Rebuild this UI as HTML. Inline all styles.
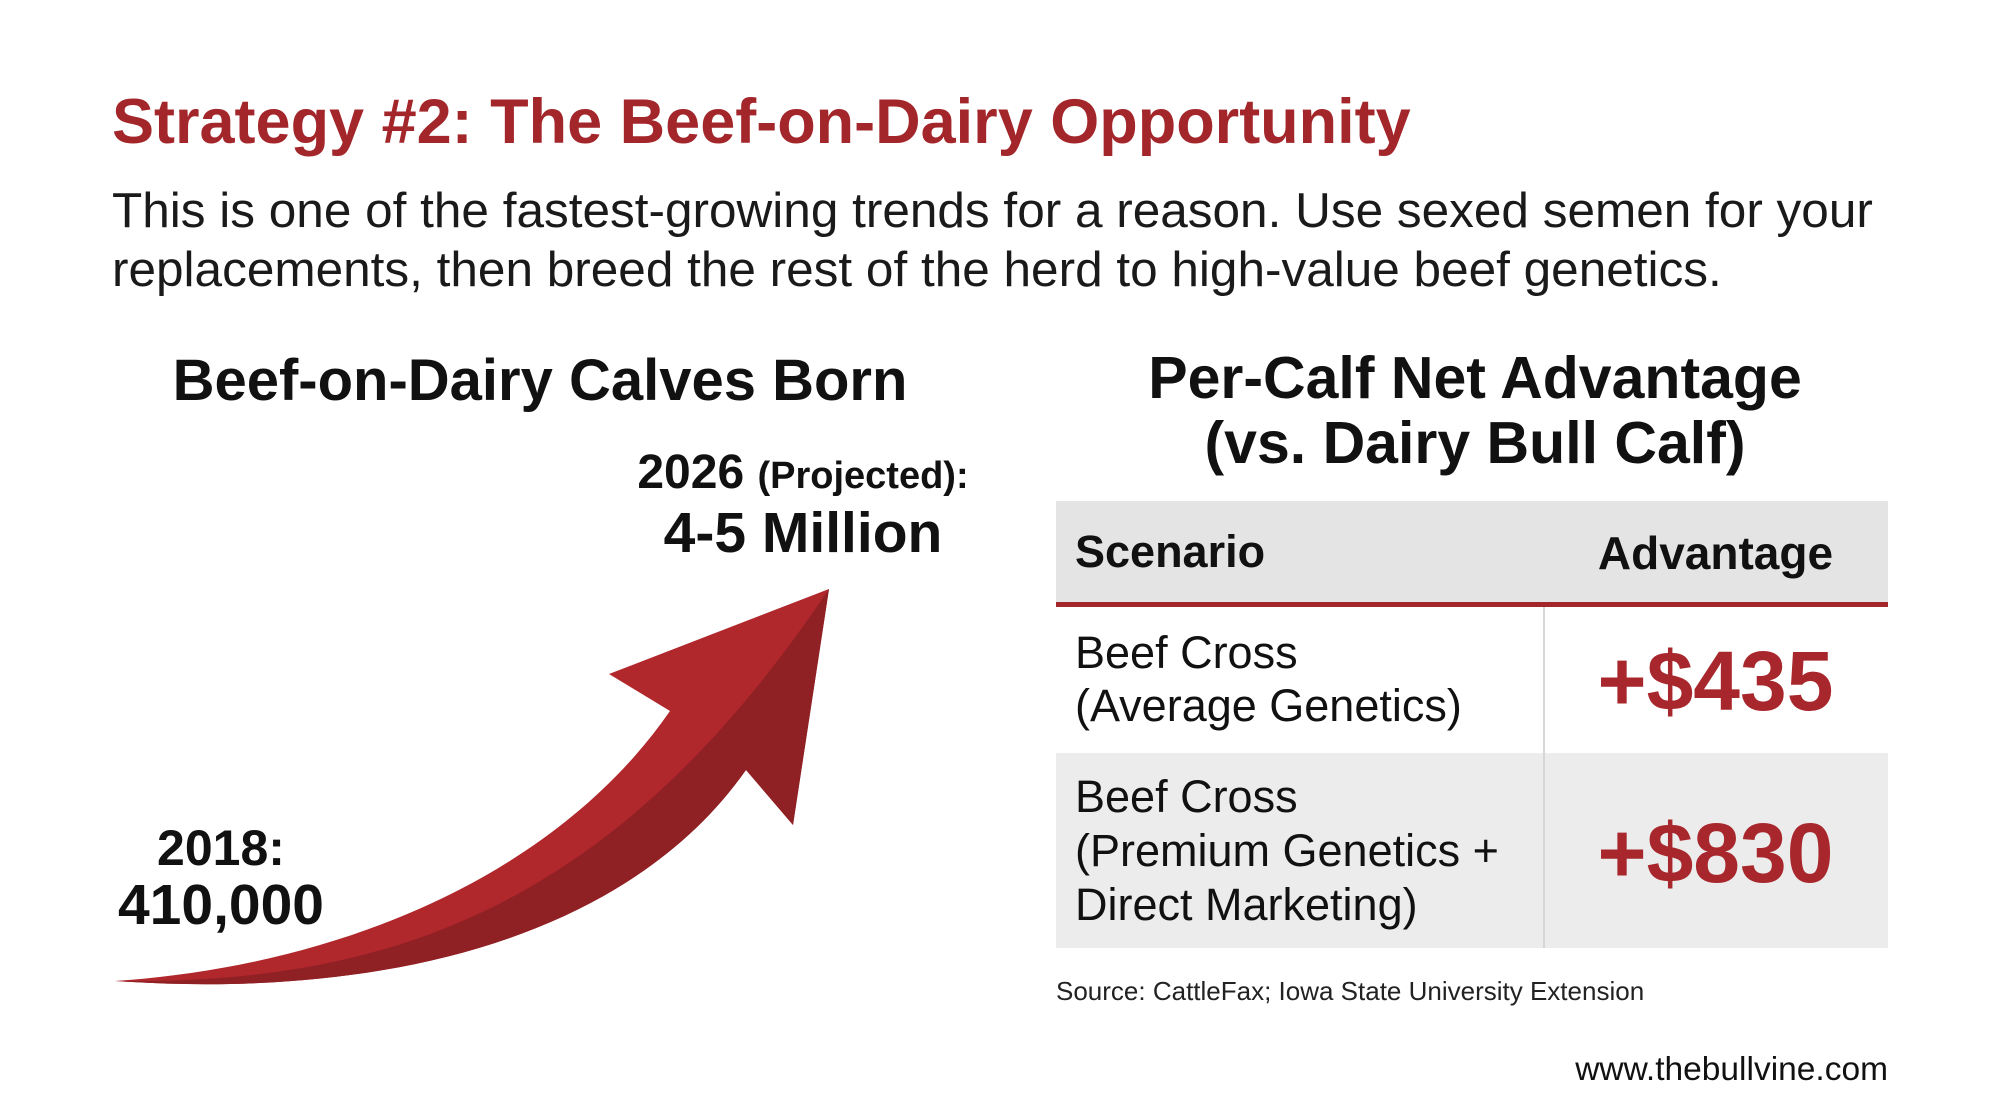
<!DOCTYPE html>
<html><head><meta charset="utf-8"><style>
body{margin:0;width:2000px;height:1116px;background:#fff;position:relative;overflow:hidden;font-family:"Liberation Sans",sans-serif;color:#111}
.a{position:absolute;white-space:nowrap}
</style></head><body>
<div class="a" style="left:112px;top:86px;font-size:63px;font-weight:bold;color:#a3262b">Strategy #2: The Beef-on-Dairy Opportunity</div>
<div class="a" style="left:112px;top:181px;font-size:49.5px;line-height:59px;color:#1a1a1a">This is one of the fastest-growing trends for a reason. Use sexed semen for your<br>replacements, then breed the rest of the herd to high-value beef genetics.</div>
<div class="a" style="left:140px;width:800px;top:347px;text-align:center;font-size:58px;font-weight:bold">Beef-on-Dairy Calves Born</div>
<svg class="a" style="left:0;top:0" width="1000" height="1116">
<path d="M115,981 C350,965 560,870 670,711 L609,674 L829,589 L793,825 L746,770 C630,935 390,1000 115,981 Z" fill="#b0272c"/>
<path d="M829,589 L793,825 L746,770 C630,935 390,1000 115,981 C400,985 620,900 829,589 Z" fill="#8f2024"/>
</svg>
<div class="a" style="left:550px;width:506px;top:445px;text-align:center;font-size:48px;font-weight:bold">2026 <span style="font-size:38px">(Projected):</span></div>
<div class="a" style="left:550px;width:506px;top:500px;text-align:center;font-size:57px;font-weight:bold">4-5 Million</div>
<div class="a" style="left:70px;width:302px;top:819px;text-align:center;font-size:50px;font-weight:bold">2018:</div>
<div class="a" style="left:70px;width:302px;top:872px;text-align:center;font-size:57px;font-weight:bold">410,000</div>
<div class="a" style="left:1075px;width:800px;top:346px;text-align:center;font-size:59px;font-weight:bold;line-height:65px">Per-Calf Net Advantage<br>(vs. Dairy Bull Calf)</div>
<div class="a" style="left:1056px;top:501px;width:832px;height:447px">
 <div class="a" style="left:0;top:0;width:832px;height:101px;background:#e4e4e4;border-bottom:5px solid #a3262b"></div>
 <div class="a" style="left:19px;top:25px;font-size:45px;font-weight:bold">Scenario</div>
 <div class="a" style="left:487px;width:345px;top:25px;text-align:center;font-size:46px;font-weight:bold">Advantage</div>
 <div class="a" style="left:0;top:252px;width:832px;height:195px;background:#ececec"></div>
 <div class="a" style="left:487px;top:106px;width:2px;height:341px;background:#d6d6d6"></div>
 <div class="a" style="left:19px;top:125px;font-size:45px;line-height:53px">Beef Cross<br>(Average Genetics)</div>
 <div class="a" style="left:487px;width:345px;top:132px;text-align:center;font-size:84px;font-weight:bold;color:#a8272c">+$435</div>
 <div class="a" style="left:19px;top:269px;font-size:45px;line-height:54px">Beef Cross<br>(Premium Genetics +<br>Direct Marketing)</div>
 <div class="a" style="left:487px;width:345px;top:304px;text-align:center;font-size:84px;font-weight:bold;color:#a8272c">+$830</div>
</div>
<div class="a" style="left:1056px;top:976px;font-size:26px;color:#222">Source: CattleFax; Iowa State University Extension</div>
<div class="a" style="right:112px;top:1051px;font-size:33.5px;color:#111">www.thebullvine.com</div>
</body></html>
